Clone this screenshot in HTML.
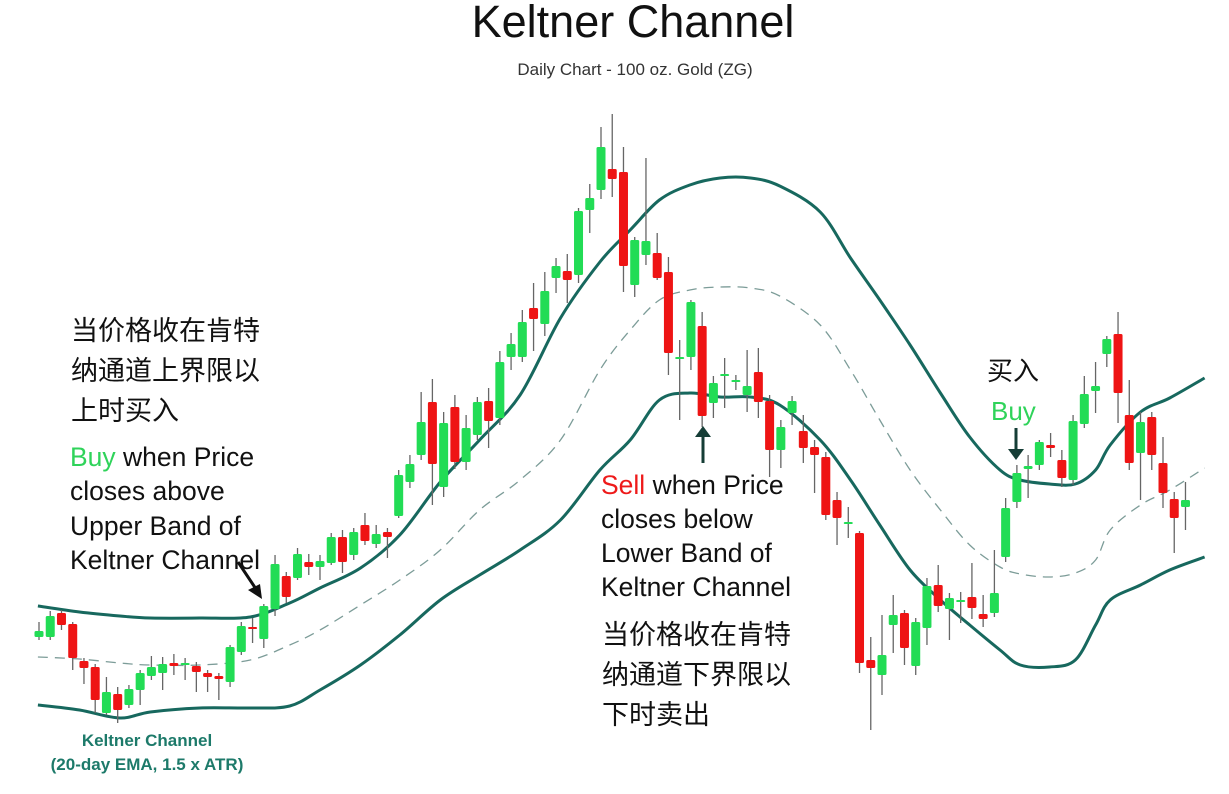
<!DOCTYPE html>
<html><head><meta charset="utf-8"><style>
html,body{margin:0;padding:0;background:#fff;}
svg{display:block;font-family:"Liberation Sans","Noto Sans CJK SC",sans-serif;}
</style></head><body>
<svg id="chart" width="1229" height="794" viewBox="0 0 1229 794" xmlns="http://www.w3.org/2000/svg">
<text x="633" y="37" text-anchor="middle" font-size="45" fill="#111">Keltner Channel</text>
<text x="635" y="75" text-anchor="middle" font-size="17" fill="#333">Daily Chart - 100 oz. Gold (ZG)</text>
<g id="bands"></g>
<g id="candles"></g>
<g font-size="27" fill="#111">
<text x="71" y="340" font-size="27" font-family="'Noto Sans CJK SC',sans-serif">当价格收在肯特</text>
<text x="71" y="380" font-size="27" font-family="'Noto Sans CJK SC',sans-serif">纳通道上界限以</text>
<text x="71" y="420" font-size="27" font-family="'Noto Sans CJK SC',sans-serif">上时买入</text>
<text x="70" y="466" font-size="26.5"><tspan fill="#2fd35a">Buy</tspan> when Price</text>
<text x="70" y="500" font-size="26.5">closes above</text>
<text x="70" y="535" font-size="26.5">Upper Band of</text>
<text x="70" y="569" font-size="26.5">Keltner Channel</text>
</g>
<g font-size="26.5" fill="#111">
<text x="601" y="494"><tspan fill="#ee1a1a">Sell</tspan> when Price</text>
<text x="601" y="528">closes below</text>
<text x="601" y="562">Lower Band of</text>
<text x="601" y="596">Keltner Channel</text>
<text x="602" y="644" font-size="27" font-family="'Noto Sans CJK SC',sans-serif">当价格收在肯特</text>
<text x="602" y="684" font-size="27" font-family="'Noto Sans CJK SC',sans-serif">纳通道下界限以</text>
<text x="602" y="724" font-size="27" font-family="'Noto Sans CJK SC',sans-serif">下时卖出</text>
</g>
<g font-size="26">
<text x="987" y="380" fill="#111" font-family="'Noto Sans CJK SC',sans-serif">买入</text>
<text x="991" y="420" fill="#2fd35a">Buy</text>
</g>
<g stroke="#111" stroke-width="3" fill="#111">
<line x1="238" y1="562" x2="258" y2="592"/><polygon points="262,599 248,590 260,584" stroke="none"/>
<line x1="703" y1="463" x2="703" y2="433" stroke="#153d36"/><polygon points="703,426 695,437 711,437" fill="#153d36" stroke="none"/>
<line x1="1016" y1="428" x2="1016" y2="452" stroke="#153d36"/><polygon points="1016,460 1008,449 1024,449" fill="#153d36" stroke="none"/>
</g>
<g fill="#1d7a6a" text-anchor="middle" font-weight="bold">
<text x="147" y="746" font-size="17">Keltner Channel</text>
<text x="147" y="770" font-size="17">(20-day EMA, 1.5 x ATR)</text>
</g>
</svg>
<script>
const opens=[1223,1223,1247,1236,1199,1193,1147,1166,1155,1170,1184,1187,1197,1196,1194,1187,1184,1178,1208,1233,1221,1251,1284,1282,1298,1293,1297,1323,1305,1335,1316,1328,1344,1378,1405,1458,1373,1453,1398,1425,1459,1442,1503,1503,1552,1536,1582,1589,1585,1650,1670,1691,1688,1575,1605,1607,1588,1503,1503,1534,1457,1486,1480,1465,1488,1459,1410,1447,1429,1413,1403,1360,1338,1327,1200,1185,1235,1247,1194,1232,1275,1251,1260,1263,1246,1247,1303,1358,1391,1395,1415,1400,1380,1436,1469,1506,1526,1445,1407,1443,1397,1361,1353];
const highs=[1238,1249,1250,1238,1202,1196,1183,1173,1175,1190,1204,1203,1206,1202,1198,1190,1187,1215,1238,1242,1256,1305,1288,1312,1306,1305,1327,1330,1332,1347,1335,1332,1390,1405,1468,1481,1448,1465,1445,1463,1472,1509,1527,1550,1577,1588,1602,1606,1652,1676,1733,1746,1713,1623,1702,1627,1603,1520,1560,1548,1484,1502,1485,1510,1512,1465,1440,1464,1445,1420,1408,1368,1353,1329,1223,1245,1265,1250,1242,1282,1295,1267,1268,1297,1265,1310,1362,1395,1405,1420,1427,1410,1445,1484,1498,1524,1548,1480,1448,1448,1423,1368,1378];
const lows=[1220,1220,1230,1190,1176,1147,1145,1137,1152,1155,1180,1170,1185,1180,1168,1168,1160,1173,1205,1217,1212,1244,1257,1280,1285,1280,1295,1287,1300,1315,1312,1302,1342,1372,1400,1355,1363,1391,1390,1420,1412,1435,1490,1498,1509,1524,1567,1557,1577,1627,1661,1663,1568,1563,1595,1580,1485,1440,1490,1433,1442,1452,1470,1448,1442,1383,1392,1435,1397,1367,1340,1315,1322,1187,1130,1165,1207,1195,1185,1215,1248,1220,1237,1241,1233,1243,1298,1352,1362,1390,1403,1373,1375,1432,1447,1493,1437,1390,1360,1390,1352,1307,1330];
const closes=[1229,1244,1235,1202,1192,1160,1168,1150,1171,1187,1193,1196,1194,1197,1188,1183,1181,1213,1234,1232,1254,1296,1263,1306,1293,1299,1323,1298,1328,1319,1326,1323,1385,1396,1438,1396,1437,1398,1432,1458,1439,1498,1516,1538,1541,1569,1594,1580,1649,1662,1713,1681,1594,1620,1619,1582,1507,1503,1558,1444,1477,1486,1480,1474,1458,1410,1433,1459,1412,1405,1345,1342,1338,1197,1192,1205,1245,1212,1238,1274,1254,1262,1260,1252,1241,1267,1352,1387,1394,1418,1412,1382,1439,1466,1474,1521,1467,1397,1438,1405,1367,1342,1360];
const bandDays=[-0.1,3.6,7.2,9.9,14.3,18.8,22.3,25,28.6,32.1,35.7,39.2,42.8,46.4,49.9,52.6,55.2,57.9,60.6,63.3,65.9,69.5,72.2,74.8,77.5,80.2,82.8,85.5,87.3,89.9,92.2,94,95.3,98,100.6,103.7];
const upperBand=[1254,1248,1244,1242,1242,1243,1257,1272,1292,1325,1378,1420,1465,1542,1598,1630,1660,1675,1682,1682,1674,1648,1602,1560,1515,1467,1423,1390,1380,1376,1376,1390,1415,1448,1462,1482];
const middleEMA=[1203,1201,1197,1195,1195,1200,1215,1230,1255,1280,1310,1350,1380,1420,1490,1530,1560,1570,1573,1572,1564,1535,1490,1440,1390,1350,1315,1293,1286,1283,1287,1300,1330,1355,1370,1392];
const lowerBand=[1155,1150,1142,1148,1152,1152,1154,1170,1195,1225,1260,1285,1310,1340,1390,1420,1460,1467,1463,1463,1455,1420,1380,1335,1290,1260,1235,1210,1195,1193,1200,1235,1260,1275,1290,1303];

const NS='http://www.w3.org/2000/svg';
function xScale(d){return 39+d*11.24;}
function yScale(p){return 1860-p;}
function mk(tag,attrs,parent){const e=document.createElementNS(NS,tag);for(const k in attrs)e.setAttribute(k,attrs[k]);parent.appendChild(e);return e;}
const bg=document.getElementById('bands');
function bandPath(vals){
  const pts=vals.map((v,i)=>[xScale(bandDays[i]),yScale(v)]);
  let d='M'+pts[0][0].toFixed(1)+','+pts[0][1].toFixed(1);
  for(let i=0;i<pts.length-1;i++){
    const p0=pts[Math.max(0,i-1)],p1=pts[i],p2=pts[i+1],p3=pts[Math.min(pts.length-1,i+2)];
    const c1=[p1[0]+(p2[0]-p0[0])/6,p1[1]+(p2[1]-p0[1])/6],c2=[p2[0]-(p3[0]-p1[0])/6,p2[1]-(p3[1]-p1[1])/6];
    d+=' C'+c1.map(n=>n.toFixed(1)).join(',')+' '+c2.map(n=>n.toFixed(1)).join(',')+' '+p2.map(n=>n.toFixed(1)).join(',');
  }
  return d;
}
let p=mk('path',{d:bandPath(middleEMA),fill:'none',stroke:'#7c9c98','stroke-width':1.3,'stroke-dasharray':'10 7'},bg);


p=mk('path',{d:bandPath(upperBand),fill:'none',stroke:'#17685e','stroke-width':3,'stroke-linejoin':'round'},bg);


p=mk('path',{d:bandPath(lowerBand),fill:'none',stroke:'#17685e','stroke-width':3,'stroke-linejoin':'round'},bg);


const cg=document.getElementById('candles');
for(let i=0;i<opens.length;i++){
  const x=xScale(i),up=closes[i]>=opens[i];
  const g=mk('g',{},cg);
  
  
  mk('line',{x1:x,x2:x,y1:yScale(highs[i]),y2:yScale(lows[i]),stroke:'#666','stroke-width':1.3},g);
  const t=yScale(Math.max(opens[i],closes[i])),b=yScale(Math.min(opens[i],closes[i]));
  mk('rect',{x:x-4.5,y:t,width:9,height:Math.max(2,b-t),rx:1.5,fill:up?'#22dc55':'#ee1414'},g);
}
</script>
</body></html>
